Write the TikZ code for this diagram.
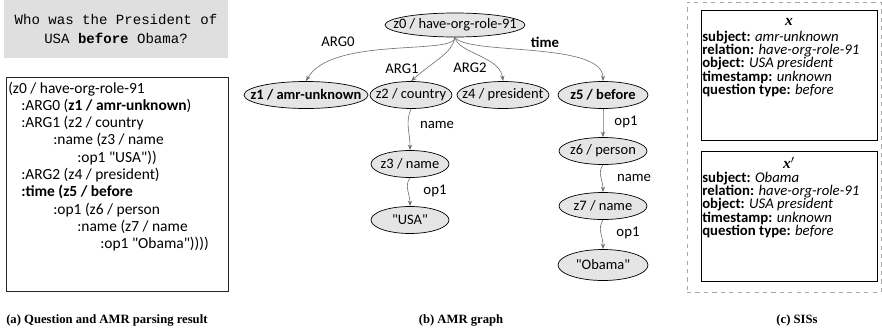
\documentclass[tikz,border=0pt]{standalone}
\usepackage{fontspec}
\setmainfont{Carlito}[Ligatures=TeXOff]
\newfontfamily\qfont{Liberation Mono}
\newfontfamily\capfont{Liberation Serif}
\usetikzlibrary{arrows.meta, shapes.geometric}
\newlength\px
\setlength\px{0.025cm}
\newcommand{\nt}[1]{\makebox[0pt]{#1}}

\begin{document}
\begin{tikzpicture}[x=1\px, y=-1\px,
    amr/.style={draw, ellipse, fill=gray!20, inner sep=0pt, line width=0.5pt,
                minimum height=27\px, font=\fontsize{10.3}{12}\selectfont},
    edge/.style={draw=gray!90!black, line width=0.45pt,
                 -{Stealth[length=4pt, width=3pt]}},
    lbl/.style={font=\fontsize{10.5}{12}\selectfont, inner sep=0pt},
    amrline/.style={anchor=base west, inner sep=0pt, font=\fontsize{11}{13}\selectfont},
    sisbox/.style={draw, line width=0.7pt, minimum width=176\px, minimum height=130\px, inner sep=0pt},
    sisline/.style={anchor=west, inner sep=0pt, font=\fontsize{10.5}{11}\selectfont},
    captxt/.style={font=\capfont\bfseries\fontsize{9}{11}\selectfont, inner sep=0pt}
]
  \useasboundingbox (0,0) rectangle (882,331);

  % (a) question and parse
  \node[fill=gray!25, minimum width=224\px, minimum height=58\px, inner sep=0pt,
        align=center, font=\qfont\fontsize{10}{14}\selectfont] (q) at (116,29)
       {Who was the President of\\USA \textbf{before} Obama?};
  \node[draw=black!85, line width=0.7pt, minimum width=222\px, minimum height=214\px,
        inner sep=0pt] (parse) at (117,184) {};
  \foreach \x/\t [count=\i from 0] in {
      8/{(z0 / have-org-role-91},
      21/{:ARG0 (\textbf{z1 / amr-unknown})},
      21/{:ARG1 (z2 / country},
      53/{:name (z3 / name},
      77/{:op1 "USA"))},
      21/{:ARG2 (z4 / president)},
      21/{\textbf{:time (z5 / before}},
      53/{:op1 (z6 / person},
      77/{:name (z7 / name},
      100/{:op1 "Obama"))))}} {
    \node[amrline] (l\i) at (\x, 93+17.3*\i) {\t};
  }

  % (b) AMR graph
  \node[amr, minimum width=140\px, minimum height=24\px] (z0) at (455,25) {\nt{z0 / have-org-role-91}};
  \node[amr, minimum width=124\px] (z1) at (306,95) {\nt{\bfseries z1 / amr-unknown}};
  \node[amr, minimum width=82\px] (z2) at (411,95) {\nt{z2 / country}};
  \node[amr, minimum width=92\px] (z4) at (503,95) {\nt{z4 / president}};
  \node[amr, minimum width=90\px] (z5) at (603,95) {\nt{\bfseries z5 / before}};
  \node[amr, minimum width=78\px] (z3) at (410,164) {\nt{z3 / name}};
  \node[amr, minimum width=78\px] (usa) at (410,220) {\nt{"USA"}};
  \node[amr, minimum width=88\px] (z6) at (603,151) {\nt{z6 / person}};
  \node[amr, minimum width=88\px] (z7) at (603,206) {\nt{z7 / name}};
  \node[amr, minimum width=90\px, minimum height=31\px] (obama) at (603,265) {\nt{"Obama"}};

  \draw[edge] (z0.south) .. controls +(0,18) and +(25,-45) .. (z1.north);
  \draw[edge] (z0.south) .. controls +(-3,16) and +(25,-22) .. (z2.north);
  \draw[edge] (z0.south) .. controls +(3,16) and +(-3,-25) .. (z4.north);
  \draw[edge] (z0.south) .. controls +(12,18) and +(0,-40) .. (z5.north);
  \draw[edge] (z2.south) .. controls +(-6,14) and +(0,-18) .. (z3.north);
  \draw[edge] (z3.south) .. controls +(-6,8) and +(0,-12) .. (usa.north);
  \draw[edge] (z5.south) .. controls +(0,10) and +(0,-12) .. (z6.north);
  \draw[edge] (z6.south) .. controls +(-6,8) and +(0,-12) .. (z7.north);
  \draw[edge] (z7.south) .. controls +(-6,10) and +(0,-14) .. (obama.north);

  \node[lbl] (larg0) at (338,42) {ARG0};
  \node[lbl] (larg1) at (402,69) {ARG1};
  \node[lbl] (larg2) at (470,68) {ARG2};
  \node[lbl, font=\bfseries\fontsize{10.5}{12}\selectfont] (ltime) at (545,42) {time};
  \node[lbl] (lname1) at (437,125) {name};
  \node[lbl] (lop1) at (435,191) {op1};
  \node[lbl] (lop2) at (626,122) {op1};
  \node[lbl] (lname2) at (634,178) {name};
  \node[lbl] (lop3) at (628,233) {op1};

  % (c) SISs
  \node[draw=gray!70, dashed, minimum width=194\px, minimum height=290\px, inner sep=0pt]
       (sis) at (784,147) {};
  \foreach \b/\t/\s/\dy in {x/x/amr-unknown/0, xp/x$'$/Obama/141} {
    \node[sisbox] (box\b) at (789,75+\dy) {};
    \node[font=\capfont\bfseries\itshape\fontsize{11}{13}\selectfont, inner sep=0pt]
         (t\b) at (789,22+\dy) {\t};
    \foreach \k/\v [count=\n] in {subject/\s, relation/have-org-role-91,
        object/USA president, timestamp/unknown, question type/before} {
      \node[sisline] (s\b\n) at (702,25+13*\n+\dy) {\textbf{\k:} \textit{\v}};
    }
  }

  \node[captxt, anchor=base west] (capa) at (6,323) {(a) Question and AMR parsing result};
  \node[captxt, anchor=base] (capb) at (461,323) {(b) AMR graph};
  \node[captxt, anchor=base] (capc) at (797,323) {(c) SISs};
\end{tikzpicture}
\end{document}
